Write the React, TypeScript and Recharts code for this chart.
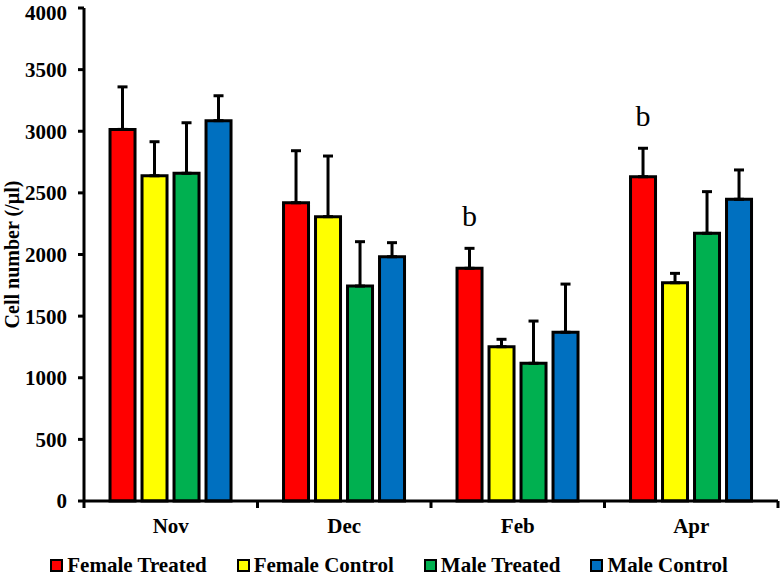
import { BarChart, Bar, XAxis, YAxis, ErrorBar, LabelList, Legend } from "recharts"

const months = ["Nov", "Dec", "Feb", "Apr"]
const femaleTreated = [3015, 2420, 1888, 2631]
const femaleTreatedErr = [345, 422, 162, 231]
const femaleControl = [2639, 2307, 1252, 1771]
const femaleControlErr = [276, 492, 60, 76]
const maleTreated = [2659, 1744, 1117, 2172]
const maleTreatedErr = [410, 360, 343, 338]
const maleControl = [3086, 1982, 1369, 2448]
const maleControlErr = [202, 114, 391, 238]
const annotations = ["", "", "b", "b"]
const yTicks = [0, 500, 1000, 1500, 2000, 2500, 3000, 3500, 4000]

const SERIES = [
  { key: "ft", name: "Female Treated", color: "#ff0000" },
  { key: "fc", name: "Female Control", color: "#ffff00" },
  { key: "mt", name: "Male Treated", color: "#00b050" },
  { key: "mc", name: "Male Control", color: "#0070c0" },
]

const data = months.map((m, i) => ({
  month: m,
  ft: femaleTreated[i], ftErr: [0, femaleTreatedErr[i]],
  fc: femaleControl[i], fcErr: [0, femaleControlErr[i]],
  mt: maleTreated[i], mtErr: [0, maleTreatedErr[i]],
  mc: maleControl[i], mcErr: [0, maleControlErr[i]],
}))

const FONT = "'Liberation Serif', 'Times New Roman', serif"
const tickStyle = { fontFamily: FONT, fontWeight: 700, fontSize: 21, fill: "#000" }

function YLabel(props: any) {
  const { viewBox } = props
  const cx = viewBox.x + 12
  const cy = viewBox.y + viewBox.height / 2
  return (
    <text x={cx} y={cy} transform={`rotate(-90 ${cx} ${cy})`} textAnchor="middle" dominantBaseline="central"
      style={{ fontFamily: FONT, fontWeight: 700, fontSize: 20 }} fill="#000">
      Cell number (/µl)
    </text>
  )
}

// month label plus the tick marks at the category edges
function MonthTick(props: any) {
  const { x, y, payload, index, width, visibleTicksCount } = props
  const band = width / visibleTicksCount
  const axisY = y - 17
  return (
    <g>
      <line x1={x - band / 2} x2={x - band / 2} y1={axisY} y2={axisY + 7} stroke="#000" strokeWidth={3} />
      {index === visibleTicksCount - 1 && (
        <line x1={x + band / 2} x2={x + band / 2} y1={axisY} y2={axisY + 7} stroke="#000" strokeWidth={3} />
      )}
      <text x={x} y={y} dy="0.71em" textAnchor="middle" style={tickStyle}>{payload.value}</text>
    </g>
  )
}

function SigLabel(props: any) {
  const { x, y, width, height, value, index } = props
  const txt = annotations[index]
  if (!txt) return null
  const errTop = y - femaleTreatedErr[index] * height / value
  return (
    <text x={x + width / 2} y={errTop - 22} textAnchor="middle"
      style={{ fontFamily: FONT, fontSize: 30 }} fill="#000">
      {txt}
    </text>
  )
}

function LegendBox() {
  return (
    <div style={{ display: "flex", justifyContent: "center", gap: 30, height: 24, alignItems: "center", position: "relative", top: 1 }}>
      {SERIES.map(s => (
        <div key={s.key} style={{ display: "flex", alignItems: "center", gap: 4 }}>
          <span style={{ width: 9, height: 9, background: s.color, border: "2.5px solid #000", display: "inline-block" }} />
          <span style={{ fontFamily: FONT, fontWeight: 700, fontSize: 21, lineHeight: "24px" }}>{s.name}</span>
        </div>
      ))}
    </div>
  )
}

export default function App() {
  return (
    <div style={{ position: "absolute", left: 0, top: 0, background: "#fff" }}>
      <BarChart width={780} height={576} data={data} margin={{ top: 8, right: 2, left: 0, bottom: 0 }}
        barCategoryGap="15%" barGap={7}>
        <XAxis dataKey="month" height={51} tickLine={false} tickSize={0} tickMargin={17}
          axisLine={{ stroke: "#000", strokeWidth: 3 }} tick={<MonthTick />} />
        <YAxis width={84} domain={[0, 4000]} ticks={yTicks} tickSize={6} tickMargin={11}
          axisLine={{ stroke: "#000", strokeWidth: 3 }} tickLine={{ stroke: "#000", strokeWidth: 3 }}
          tick={tickStyle} label={<YLabel />} />
        <Legend verticalAlign="bottom" content={<LegendBox />} />
        {SERIES.map(s => (
          <Bar key={s.key} dataKey={s.key} name={s.name} fill={s.color} stroke="#000" strokeWidth={3}
            isAnimationActive={false}>
            <ErrorBar dataKey={`${s.key}Err`} direction="y" width={5} stroke="#000" strokeWidth={3} />
            {s.key === "ft" && <LabelList dataKey="ft" content={<SigLabel />} />}
          </Bar>
        ))}
      </BarChart>
    </div>
  )
}
